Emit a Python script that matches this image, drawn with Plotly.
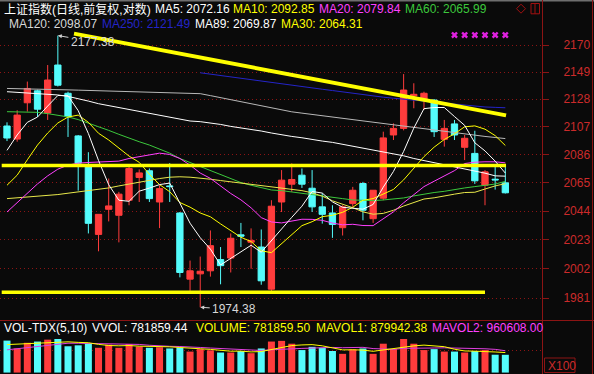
import math
import plotly.graph_objects as go

# ---------------- data ----------------
idx = list(range(50))  # trading-day index

open_ = [2107.6, 2097.7, 2125.3, 2134.5, 2117.5, 2154.4, 2132.6, 2100.1, 2078.1, 2026.9,
         2045.3, 2040.9, 2052.0, 2068.9, 2073.9, 2050.7, 2062.6, 2042.6, 1994.5, 1998.3,
         2000.5, 2008.6, 2009.7, 2026.6, 2021.2, 2017.7, 1987.3, 2050.7, 2063.9, 2070.6,
         2060.9, 2047.1, 2042.6, 2031.8, 2049.5, 2064.4, 2038.4, 2053.5, 2100.8, 2105.8,
         2130.6, 2127.4, 2127.4, 2097.5, 2109.2, 2091.5, 2086.9, 2063.1, 2067.6, 2064.9]
high = [2110.4, 2119.6, 2141.6, 2135.3, 2154.4, 2177.38, 2133.8, 2100.8, 2087.8, 2041.7,
        2068.1, 2058.2, 2077.1, 2074.9, 2075.6, 2063.1, 2079.6, 2043.3, 2007.9, 2010.8,
        2029.8, 2017.7, 2027.6, 2035.3, 2031.3, 2030.5, 2052.0, 2074.4, 2079.4, 2075.6,
        2074.4, 2057.2, 2048.3, 2048.3, 2061.9, 2065.6, 2059.5, 2103.3, 2109.6, 2147.4,
        2140.3, 2133.8, 2128.1, 2112.2, 2112.2, 2100.8, 2104.0, 2074.4, 2078.1, 2078.9]
low = [2096.2, 2095.7, 2118.6, 2114.4, 2112.2, 2137.8, 2099.3, 2059.1, 2027.6, 2014.6,
       2036.4, 2021.1, 2048.3, 2050.7, 2050.7, 2031.5, 2050.7, 1995.8, 1986.1, 1974.38,
       1996.3, 1990.8, 1999.3, 2017.7, 2002.0, 1990.5, 1986.1, 2043.3, 2058.2, 2061.1,
       2043.3, 2034.8, 2024.4, 2026.1, 2047.1, 2037.2, 2035.3, 2052.0, 2097.0, 2104.3,
       2121.1, 2119.9, 2099.3, 2092.0, 2097.0, 2081.9, 2064.1, 2048.3, 2059.9, 2057.0]
close = [2098.5, 2115.9, 2136.3, 2120.4, 2142.8, 2138.8, 2114.7, 2079.6, 2035.0, 2041.6,
         2047.8, 2056.5, 2075.6, 2072.3, 2053.2, 2060.6, 2062.1, 1999.3, 2000.5, 2000.2,
         2018.7, 2004.2, 2024.1, 2025.6, 2022.5, 1993.3, 2047.6, 2066.9, 2067.4, 2063.9,
         2047.1, 2041.6, 2034.2, 2047.1, 2059.4, 2044.6, 2059.4, 2098.6, 2105.8, 2135.1,
         2131.8, 2132.6, 2103.3, 2105.8, 2100.8, 2098.3, 2066.4, 2073.1, 2067.1, 2057.5]

ma5 = [2089.2, 2100.8, 2110.4, 2114.4, 2122.8, 2130.9, 2130.7, 2119.3, 2101.9, 2081.6,
       2063.5, 2052.0, 2051.2, 2058.7, 2061.0, 2063.6, 2064.7, 2049.3, 2035.1, 2024.5,
       2016.2, 2004.7, 2009.5, 2014.6, 2019.0, 2013.9, 2022.6, 2031.0, 2039.4, 2047.6,
       2058.5, 2057.3, 2050.8, 2046.8, 2045.9, 2045.4, 2048.9, 2061.7, 2073.4, 2088.4,
       2106.0, 2120.8, 2121.7, 2121.7, 2114.8, 2108.1, 2094.9, 2088.8, 2081.1, 2072.16]
ma10 = [2063.1, 2070.6, 2082.1, 2093.2, 2102.3, 2109.9, 2114.4, 2115.9, 2110.4, 2102.1,
        2097.0, 2091.0, 2084.9, 2080.2, 2071.3, 2063.6, 2058.3, 2050.3, 2046.9, 2042.6,
        2039.8, 2034.6, 2029.4, 2024.8, 2021.7, 2015.0, 2013.6, 2020.3, 2027.1, 2033.3,
        2036.2, 2039.9, 2040.9, 2043.1, 2046.8, 2052.0, 2053.2, 2056.3, 2060.0, 2067.1,
        2075.5, 2084.5, 2091.6, 2097.4, 2101.7, 2107.0, 2107.7, 2105.2, 2100.3, 2092.85]
ma20 = [2043.3, 2050.2, 2057.2, 2064.1, 2070.1, 2075.1, 2078.1, 2079.6, 2080.1, 2080.6,
        2081.1, 2081.1, 2083.1, 2084.6, 2086.1, 2087.1, 2086.1, 2083.1, 2078.1, 2072.2,
        2068.2, 2062.5, 2057.0, 2052.3, 2046.4, 2039.2, 2036.0, 2035.3, 2036.9, 2038.0,
        2037.9, 2037.2, 2035.2, 2033.9, 2034.3, 2033.4, 2033.3, 2038.2, 2043.4, 2050.1,
        2055.8, 2062.1, 2066.1, 2070.1, 2074.0, 2079.3, 2080.3, 2080.6, 2080.6, 2079.84]
ma60 = [2118.5, 2118.5, 2118.5, 2118.0, 2117.0, 2116.0, 2114.5, 2112.5, 2109.9, 2107.3,
        2104.3, 2101.3, 2098.3, 2095.7, 2093.2, 2090.2, 2087.1, 2083.1, 2080.1, 2077.1,
        2074.1, 2070.6, 2067.6, 2065.1, 2063.1, 2061.1, 2059.6, 2059.1, 2058.2, 2057.2,
        2056.2, 2055.2, 2054.2, 2053.2, 2052.2, 2051.7, 2051.7, 2052.2, 2052.7, 2053.7,
        2055.2, 2056.7, 2057.7, 2058.6, 2060.1, 2061.1, 2062.1, 2063.1, 2064.0, 2065.99]
ma120 = [2136.3, 2136.2, 2136.0, 2135.8, 2135.6, 2135.4, 2135.2, 2135.0, 2134.8, 2134.6,
         2134.4, 2134.2, 2134.0, 2133.8, 2133.6, 2133.3, 2133.0, 2132.8, 2132.6, 2132.3,
         2130.8, 2129.2, 2127.6, 2126.1, 2124.6, 2123.1, 2121.6, 2120.1, 2118.4, 2117.4,
         2116.4, 2115.4, 2114.4, 2113.4, 2112.4, 2111.4, 2110.4, 2109.3, 2108.3, 2107.3,
         2106.3, 2105.3, 2104.3, 2103.3, 2102.3, 2101.3, 2100.5, 2099.7, 2098.9, 2098.07]
ma250 = [None] * 19 + [
         2148.4, 2147.3, 2146.2, 2145.1, 2144.1, 2143.1, 2141.9, 2140.9, 2139.9, 2138.9,
         2137.7, 2136.7, 2135.7, 2134.7, 2133.6, 2132.6, 2131.6, 2130.6, 2129.6, 2128.8,
         2128.0, 2127.2, 2126.4, 2125.6, 2124.9, 2124.1, 2123.4, 2122.7, 2122.1, 2121.8,
         2121.49]
ma89 = [2133.8, 2133.3, 2132.8, 2132.3, 2131.8, 2131.3, 2130.2, 2128.6, 2126.6, 2124.6,
        2123.1, 2121.6, 2120.1, 2118.5, 2116.9, 2115.4, 2113.9, 2112.4, 2111.4, 2110.9,
        2109.9, 2108.8, 2107.3, 2106.3, 2105.3, 2103.8, 2102.3, 2100.8, 2099.7, 2098.7,
        2097.2, 2096.2, 2095.2, 2093.7, 2092.2, 2090.7, 2089.2, 2088.2, 2086.6, 2085.1,
        2083.1, 2081.6, 2080.1, 2078.6, 2077.1, 2075.6, 2074.1, 2072.1, 2070.1, 2069.87]
ma30 = [2053.2, 2053.7, 2054.2, 2055.2, 2055.7, 2056.2, 2057.2, 2058.1, 2059.1, 2060.1,
        2061.1, 2062.6, 2064.1, 2065.6, 2067.1, 2068.1, 2069.1, 2069.4, 2069.1, 2068.6,
        2067.6, 2066.6, 2065.6, 2064.6, 2063.6, 2062.6, 2061.6, 2060.6, 2060.1, 2059.1,
        2057.5, 2055.0, 2051.6, 2049.2, 2046.5, 2043.4, 2041.7, 2042.3, 2044.6, 2047.7,
        2050.4, 2052.9, 2053.8, 2054.9, 2056.5, 2057.7, 2057.9, 2060.3, 2062.6, 2064.31]

volume = [1405700, 1060500, 1310100, 1364200, 1447300, 1476400, 1156200, 1197800, 1281000, 1089700,
          1226900, 1089700, 1256000, 1143700, 1089700, 1114600, 1060500, 1102100, 923300, 1031400,
          977400, 881700, 881700, 948300, 852600, 1060500, 1364200, 1393300, 1268500, 989800,
          1131200, 1089700, 948300, 823500, 1019000, 1060500, 823500, 1268500, 1031400, 1476400,
          1268500, 989800, 1031400, 923300, 923300, 881700, 948300, 989800, 785000, 781859.50]
mavol1 = [1230000, 1250000, 1280000, 1300000, 1318000, 1332000, 1351000, 1328000, 1312000, 1240000,
          1190000, 1177000, 1189000, 1161000, 1161000, 1139000, 1133000, 1102000, 1058000, 1046000,
          1019000, 983000, 939000, 944000, 908000, 925000, 1022000, 1124000, 1188000, 1215000,
          1229000, 1175000, 1086000, 997000, 1002000, 988000, 935000, 999000, 1041000, 1132000,
          1174000, 1207000, 1159000, 1138000, 1027000, 950000, 941000, 933000, 905000, 879942.38]
mavol2 = [1000000, 1050000, 1100000, 1160000, 1220000, 1270000, 1290000, 1290000, 1285000, 1279000,
          1261000, 1264000, 1259000, 1237000, 1201000, 1165000, 1155000, 1146000, 1110000, 1104000,
          1079000, 1058000, 1021000, 1001000, 977000, 972000, 1002000, 1031000, 1066000, 1062000,
          1077000, 1098000, 1105000, 1092000, 1109000, 1109000, 1055000, 1043000, 1019000, 1067000,
          1081000, 1071000, 1079000, 1089000, 1080000, 1062000, 1074000, 1046000, 1021000, 960608.00]
vvol_last = 781859.44

# hand-drawn lines (trend line, resistance, support)
trend_x = [6.59, 49.07]
trend_y = [2178.9, 2115.7]
resist_x = [-0.52, 49.07]
resist_y = [2077.9, 2077.9]
support_x = [-0.52, 47.0]
support_y = [1985.1, 1985.1]

# signal markers above the last candles
signal_idx = [44, 45, 46, 47, 48, 49]
signal_level = 2177.8

price_ticks = [2170, 2149, 2128, 2107, 2086, 2065, 2044, 2023, 2002, 1981]
vol_grid = [950000]

# ---------------- styling ----------------
W, H = 594, 374
BG = "#0a0a0a"
RED = "#ff3c3c"
CYAN = "#54fcfc"
DARKRED = "#8c1414"
AXRED = "#cc2a2a"
WHITE = "#ffffff"
YELLOW = "#ffff00"
MAGENTA = "#ff40ff"
GREEN = "#3cc83c"
GRAY = "#b8b8b8"
BLUE = "#2424c8"
FONT = "Liberation Sans, Arial, Noto Sans CJK SC, sans-serif"


def px(x):
    return x / W


def py(y):
    return 1 - y / H


fig = go.Figure()

fig.add_trace(go.Candlestick(
    x=idx, open=open_, high=high, low=low, close=close,
    increasing=dict(line=dict(color=RED, width=1), fillcolor=RED),
    decreasing=dict(line=dict(color=CYAN, width=1), fillcolor=CYAN),
    whiskerwidth=0, hoverinfo="skip", showlegend=False,
    xaxis="x", yaxis="y"))

ma_specs = [
    (ma120, GRAY), (ma250, BLUE), (ma89, WHITE), (ma60, GREEN),
    (ma30, "#e8e84a"), (ma20, MAGENTA), (ma10, YELLOW), (ma5, WHITE),
]
for vals, col in ma_specs:
    fig.add_trace(go.Scatter(x=idx, y=vals, mode="lines",
                             line=dict(color=col, width=1),
                             hoverinfo="skip", showlegend=False,
                             xaxis="x", yaxis="y"))

for xs, ys, w in [(trend_x, trend_y, 4), (resist_x, resist_y, 3.5), (support_x, support_y, 3.5)]:
    fig.add_trace(go.Scatter(x=xs, y=ys, mode="lines",
                             line=dict(color=YELLOW, width=w),
                             hoverinfo="skip", showlegend=False,
                             xaxis="x", yaxis="y"))

fig.add_trace(go.Scatter(x=signal_idx, y=[signal_level] * len(signal_idx), mode="markers",
                         marker=dict(symbol="x", size=6, color="#e020e0", line=dict(width=0)),
                         hoverinfo="skip", showlegend=False, xaxis="x", yaxis="y"))

vol_colors = [RED if c >= o else CYAN for o, c in zip(open_, close)]
fig.add_trace(go.Bar(x=idx, y=volume, width=0.69,
                     marker=dict(color=vol_colors, line=dict(width=0)),
                     hoverinfo="skip", showlegend=False, xaxis="x", yaxis="y2"))
fig.add_trace(go.Scatter(x=idx, y=mavol2, mode="lines", line=dict(color="#e040e0", width=1),
                         hoverinfo="skip", showlegend=False, xaxis="x", yaxis="y2"))
fig.add_trace(go.Scatter(x=idx, y=mavol1, mode="lines", line=dict(color=YELLOW, width=1),
                         hoverinfo="skip", showlegend=False, xaxis="x", yaxis="y2"))

# price log axis: 2170 at y=45px, 1981 at y=298px
px_per_dec = 253.0 / (math.log10(2170) - math.log10(1981))
top_log = math.log10(2170) + (45 - 2) / px_per_dec
bot_log = top_log - (320 - 2) / px_per_dec
vol_per_px = 41590.0
vol_range = [-(375.5 - 374) * vol_per_px, (375.5 - 321) * vol_per_px]

fig.update_layout(
    width=W, height=H, autosize=False,
    margin=dict(l=0, r=0, t=0, b=0),
    paper_bgcolor=BG, plot_bgcolor=BG,
    showlegend=False,
    boxgap=0.38, boxgroupgap=0,
    xaxis=dict(domain=[0, px(542)], range=[-0.6883, 52.606], visible=False,
               rangeslider=dict(visible=False), fixedrange=True),
    yaxis=dict(domain=[py(320), py(2)], type="log", range=[bot_log, top_log],
               side="right", anchor="x",
               tickmode="array", tickvals=price_ticks, ticktext=[str(t) for t in price_ticks],
               ticks="outside", ticklen=6, tickcolor=DARKRED, tickwidth=1,
               tickfont=dict(color=AXRED, size=12, family=FONT), ticklabelstandoff=12,
               showgrid=True, gridcolor=DARKRED, gridwidth=1, griddash="1px,3px",
               zeroline=False, showline=False),
    yaxis2=dict(domain=[0, py(321)], range=vol_range, anchor="x", side="right",
                tickmode="array", tickvals=vol_grid, showticklabels=False, ticks="",
                showgrid=True, gridcolor=DARKRED, gridwidth=1, griddash="1px,3px",
                zeroline=False, showline=False),
)

shapes = [
    dict(type="line", xref="paper", yref="paper", x0=0, x1=1, y0=py(0.7), y1=py(0.7),
         line=dict(color="#6e6e6e", width=1.5)),
    dict(type="line", xref="paper", yref="paper", x0=px(542.5), x1=px(542.5), y0=0, y1=1,
         line=dict(color=DARKRED, width=1)),
    dict(type="line", xref="paper", yref="paper", x0=px(592.5), x1=px(592.5), y0=0, y1=1,
         line=dict(color=DARKRED, width=1)),
    dict(type="line", xref="paper", yref="paper", x0=0, x1=1, y0=py(320.5), y1=py(320.5),
         line=dict(color=DARKRED, width=1)),
    dict(type="rect", xref="paper", yref="paper", x0=px(544.5), x1=px(575), y0=py(372.5), y1=py(358),
         line=dict(color=DARKRED, width=1)),
    dict(type="path", xref="paper", yref="paper",
         path="M {} {} L {} {} L {} {} L {} {} Z".format(px(516.5), py(8.7), px(521), py(4.2),
                                                         px(525.5), py(8.7), px(521), py(13.2)),
         line=dict(color="#a01010", width=1)),
    dict(type="rect", xref="paper", yref="paper", x0=px(531), x1=px(539.5), y0=py(13.8), y1=py(3.5),
         line=dict(color="#a01010", width=1)),
    dict(type="line", xref="paper", yref="paper", x0=px(535), x1=px(535), y0=py(13.8), y1=py(3.5),
         line=dict(color="#a01010", width=1)),
]
fig.update_layout(shapes=shapes)

ann = []


def label(text, x, y, color, size=12):
    ann.append(dict(text=text, x=px(x), y=py(y), xref="paper", yref="paper",
                    xanchor="left", yanchor="middle", showarrow=False,
                    font=dict(color=color, size=size, family=FONT)))


label("上证指数(日线,前复权,对数)", 1.5, 9.5, WHITE)
label("MA5: {:.2f}".format(ma5[-1]), 153, 9.5, WHITE)
label("MA10: {:.2f}".format(ma10[-1]), 231, 9.5, YELLOW)
label("MA20: {:.2f}".format(ma20[-1]), 317, 9.5, MAGENTA)
label("MA60: {:.2f}".format(ma60[-1]), 403, 9.5, GREEN)
label("MA120: {:.2f}".format(ma120[-1]), 6.5, 24, "#d8d8d8")
label("MA250: {:.2f}".format(ma250[-1]), 100, 24, BLUE)
label("MA89: {:.2f}".format(ma89[-1]), 193, 24, WHITE)
label("MA30: {:.2f}".format(ma30[-1]), 279, 24, YELLOW)

label("VOL-TDX(5,10)", 1.5, 327.5, WHITE)
label("VVOL: {:.2f}".format(vvol_last), 89.5, 327.5, WHITE)
label("VOLUME: {:.2f}".format(volume[-1]), 194, 327.5, YELLOW)
label("MAVOL1: {:.2f}".format(mavol1[-1]), 314, 327.5, YELLOW)
label("MAVOL2: {:.2f}".format(mavol2[-1]), 430, 327.5, MAGENTA)
label("X100", 545.5, 365.5, AXRED)

hi_i = high.index(max(high))
lo_i = low.index(min(low))
for i, val, ax, ay in [(hi_i, high[hi_i], 35, 6), (lo_i, low[lo_i], 34, 2)]:
    ann.append(dict(text="{:.2f}".format(val), x=i, y=math.log10(val), xref="x", yref="y",
                    showarrow=True, ax=ax, ay=ay, arrowhead=2, arrowsize=0.8, arrowwidth=1,
                    arrowcolor="#d0d0d0", standoff=0, startstandoff=1,
                    font=dict(color="#d8d8d8", size=12, family=FONT)))

fig.update_layout(annotations=ann)

fig.write_html("out.html",
               config={"displayModeBar": False, "staticPlot": True},
               post_script="document.body.style.margin='0';document.body.style.padding='0';"
                           "document.body.style.background='" + BG + "';")
